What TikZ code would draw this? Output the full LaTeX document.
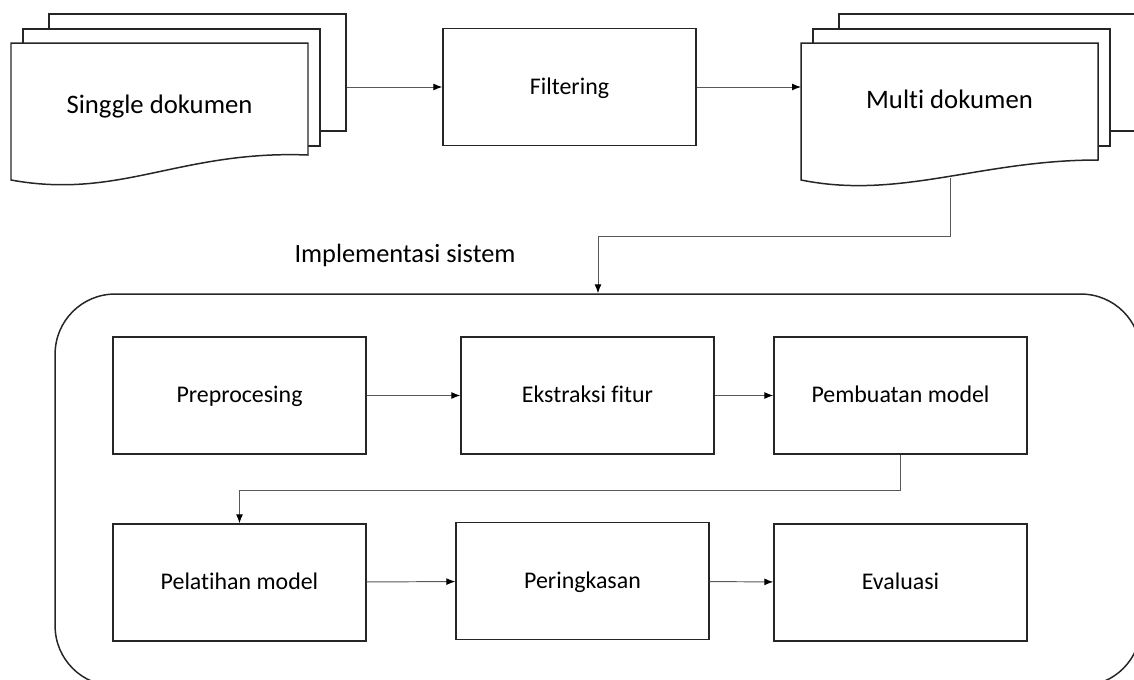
\documentclass[tikz,border=0pt]{standalone}
\usepackage{fontspec}
\setmainfont{Carlito}[Ligatures=NoCommon]
\usetikzlibrary{arrows.meta}

\begin{document}
\begin{tikzpicture}[x=0.02cm,y=-0.02cm]
    \tikzstyle{process}=[rectangle,draw=black!85,line width=0.85pt,fill=white,minimum width=5.06cm,minimum height=2.34cm,inner sep=0pt,font=\fontsize{13.6}{16}\selectfont,text height=0.8em,text depth=0pt]
    \tikzstyle{page}=[rectangle,draw=black!85,line width=0.85pt,fill=white,minimum width=5.94cm,minimum height=2.34cm,inner sep=0pt]
    \tikzstyle{doctext}=[rectangle,inner sep=0pt,font=\fontsize{15.2}{18}\selectfont,text height=0.644em,text depth=0pt]
    \tikzstyle{conn}=[draw=black!65,line width=0.55pt,-{Latex[length=1.8mm,width=1.4mm,color=black]}]
    \useasboundingbox (0,0) rectangle (1134,680);
    \clip (0,0) rectangle (1134,680);
    % single document stack
    \node[page] (sback) at (197.5,72.5){};
    \node[page] (smid) at (171.5,87.5){};
    \filldraw[fill=white, draw=black!85, line width=0.85pt] (11,43) -- (308,43) -- (308,155) .. controls (180,150) and (120,200) .. (11,180) -- cycle;
    \node[doctext] (sdoc) at (159.5,108){Singgle dokumen};
    % filtering
    \node[process] (filter) at (569.5,87){Filtering};
    % multi document stack
    \node[page] (mback) at (987.5,72.5){};
    \node[page] (mmid) at (961.5,87.5){};
    \filldraw[fill=white, draw=black!85, line width=0.85pt] (801,43) -- (1098,43) -- (1098,160) .. controls (980,160) and (900,200) .. (801,180) -- cycle;
    \node[doctext] (mdoc) at (949.5,102.5){Multi dokumen};
    \coordinate (min) at (801,87);
    \coordinate (mout) at (950,178);
    % system
    \node[doctext,font=\fontsize{15}{18}\selectfont] (impl) at (405,257){Implementasi sistem};
    \node[rectangle,rounded corners=1.2cm,draw=black!85,line width=0.85pt,minimum width=21.72cm,minimum height=7.84cm] (sys) at (598,490){};
    \node[process] (pre) at (239.5,395.5){Preprocesing};
    \node[process] (ekst) at (587.5,395.5){Ekstraksi fitur};
    \node[process] (pemb) at (900.5,395.5){Pembuatan model};
    \node[process] (pela) at (239.5,582.5){Pelatihan model};
    \node[process] (peri) at (582.5,581){Peringkasan};
    \node[process] (eval) at (900.5,582.5){Evaluasi};
    % connectors
    \draw[conn] (sback.east |- filter.west) -- (filter.west);
    \draw[conn] (filter.east) -- (min);
    \draw[conn] (mout) -- ++(0,58) -| (sys.north);
    \draw[conn] (pre) -- (ekst);
    \draw[conn] (ekst) -- (pemb);
    \draw[conn] (pemb.south) -- ++(0,36) -| (pela.north);
    \draw[conn] (pela) -- (peri);
    \draw[conn] (peri) -- (eval);
\end{tikzpicture}
\end{document}
